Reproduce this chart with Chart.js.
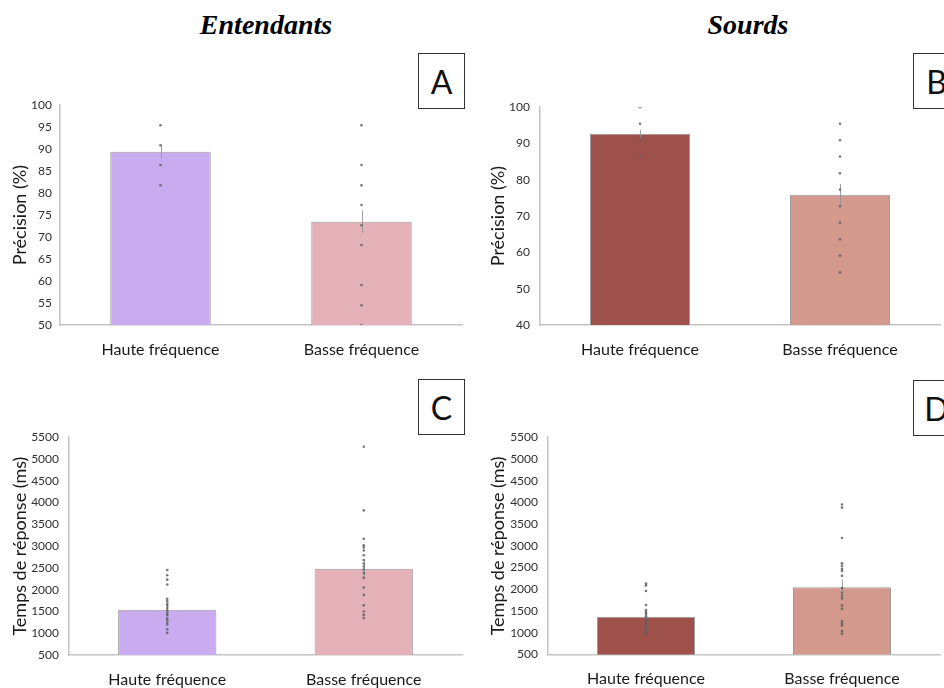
<!DOCTYPE html>
<html>
<head>
<meta charset="utf-8">
<script src="https://cdn.jsdelivr.net/npm/chart.js@4/dist/chart.umd.min.js"></script>
<style>
  html, body { margin: 0; padding: 0; background: #fff; }
  body { width: 944px; height: 688px; position: relative; overflow: hidden; font-family: Lato, "Open Sans", sans-serif; }
  .group { position: absolute; top: 9px; font-family: "Liberation Serif", "Times New Roman", serif; font-weight: bold; font-style: italic; font-size: 28px; color: #000; transform: translateX(-50%); white-space: nowrap; }
  .panel { position: absolute; }
  .tag { position: absolute; width: 47px; height: 56px; box-sizing: border-box; border: 1.5px solid #333; background: #fff; font-family: Lato, sans-serif; font-size: 32px; color: #111; display: flex; align-items: center; justify-content: center; z-index: 2; }
</style>
</head>
<body>
<div class="group" style="left:266px">Entendants</div>
<div class="group" style="left:748px">Sourds</div>

<div class="panel" id="pA" style="left:0;top:90px"><canvas id="cA" width="470" height="280"></canvas></div>
<div class="panel" id="pB" style="left:470px;top:90px"><canvas id="cB" width="474" height="280"></canvas></div>
<div class="panel" id="pC" style="left:0;top:420px"><canvas id="cC" width="470" height="268"></canvas></div>
<div class="panel" id="pD" style="left:470px;top:420px"><canvas id="cD" width="474" height="268"></canvas></div>

<div class="tag" style="left:418px;top:53px">A</div>
<div class="tag" style="left:913px;top:53px">B</div>
<div class="tag" style="left:418px;top:379px">C</div>
<div class="tag" style="left:913px;top:380px">D</div>

<script>
// Conditions on the x axis
const categories = ['Haute fréquence', 'Basse fréquence'];

// Précision (%) — Entendants
const accHearingMeans = [89.4, 73.5];
const accHearingErrors = [1.5, 2.6];
const accHearingHigh = [95.45, 90.9, 86.4, 81.8];
const accHearingLow = [95.45, 86.4, 81.8, 77.3, 72.7, 68.2, 59.1, 54.5, 50.0];

// Précision (%) — Sourds
const accDeafMeans = [92.7, 75.9];
const accDeafErrors = [1.1, 2.9];
const accDeafHigh = [100, 95.45, 90.9, 86.4];
const accDeafLow = [95.45, 90.9, 86.4, 81.8, 77.3, 72.7, 68.2, 63.6, 59.1, 54.5];

// Temps de réponse (ms) — Entendants
const rtHearingMeans = [1540, 2480];
const rtHearingErrors = [110, 200];
const rtHearingHigh = [2450, 2330, 2230, 2120, 1790, 1740, 1680, 1640, 1580, 1520, 1470, 1420, 1350, 1300, 1240, 1200, 1090, 1010];
const rtHearingLow = [5280, 3820, 3170, 3020, 2970, 2900, 2790, 2680, 2600, 2530, 2460, 2380, 2270, 2050, 1880, 1640, 1500, 1420, 1350];

// Temps de réponse (ms) — Sourds
const rtDeafMeans = [1370, 2050];
const rtDeafErrors = [80, 180];
const rtDeafHigh = [2130, 2090, 1960, 1640, 1520, 1470, 1430, 1380, 1330, 1280, 1220, 1170, 1100, 1050, 990];
const rtDeafLow = [3950, 3880, 3180, 2600, 2540, 2470, 2420, 2310, 2030, 1920, 1850, 1790, 1630, 1550, 1270, 1220, 1170, 1040, 980];

// Y-axis ranges and labels
const accHearingAxis = { min: 50, max: 100, step: 5, title: 'Précision (%)' };
const accDeafAxis = { min: 40, max: 100, step: 10, title: 'Précision (%)' };
const rtAxis = { min: 500, max: 5500, step: 500, title: 'Temps de réponse (ms)' };

// Bar colours
const hearingColors = ['#c9abf0', '#e4b1b9'];
const deafColors = ['#9e504a', '#d3998d'];

// Draws mean ± error as a thin vertical line over each bar
const errorBars = {
  id: 'errorBars',
  afterDatasetDraw(chart, args, opts) {
    if (chart.data.datasets[args.index].type !== 'bar') return;
    const { ctx, scales: { x, y } } = chart;
    ctx.save();
    ctx.strokeStyle = 'rgba(150,150,150,0.9)';
    ctx.lineWidth = 1;
    opts.means.forEach((m, i) => {
      const px = Math.round(x.getPixelForValue(i)) + 0.5;
      ctx.beginPath();
      ctx.moveTo(px, y.getPixelForValue(m - opts.errors[i]));
      ctx.lineTo(px, y.getPixelForValue(m + opts.errors[i]));
      ctx.stroke();
    });
    ctx.restore();
  }
};

function toPoints(values, label) {
  return values.map(v => ({ x: label, y: v }));
}

// box: canvas origin and absolute plot area edges
function makePanel(canvasId, box, axis, means, errors, high, low, colors) {
  const canvasW = box.w, canvasH = box.h;
  const yAxisWidth = box.areaLeft - box.left;
  const xAxisHeight = box.top + canvasH - box.areaBottom;
  const titleFont = 18;
  new Chart(document.getElementById(canvasId), {
    type: 'bar',
    data: {
      labels: categories,
      datasets: [
        {
          type: 'bar',
          data: means,
          backgroundColor: colors,
          borderColor: 'rgba(140,140,140,0.85)',
          borderWidth: 1,
          barPercentage: 0.5,
          categoryPercentage: 1,
          order: 2
        },
        {
          type: 'scatter',
          data: toPoints(high, categories[0]).concat(toPoints(low, categories[1])),
          pointRadius: 1.3,
          pointBackgroundColor: 'rgba(95,95,95,0.85)',
          pointBorderWidth: 0,
          showLine: false,
          order: 1
        }
      ]
    },
    options: {
      responsive: false,
      animation: false,
      devicePixelRatio: 1,
      layout: {
        padding: {
          top: box.areaTop - box.top,
          right: box.left + canvasW - box.areaRight,
          left: 0,
          bottom: 0
        }
      },
      plugins: {
        legend: { display: false },
        tooltip: { enabled: false },
        errorBars: { means: means, errors: errors }
      },
      scales: {
        x: {
          type: 'category',
          labels: categories,
          offset: true,
          grid: { display: false, drawTicks: false },
          border: { display: true, color: '#c4c4c4', width: 1.5 },
          ticks: { font: { family: 'Lato', size: 16 }, color: '#1a1a1a', padding: 15, maxRotation: 0 },
          afterFit(scale) { scale.height = xAxisHeight; }
        },
        y: {
          type: 'linear',
          min: axis.min,
          max: axis.max,
          grid: { display: false, drawTicks: false },
          border: { display: true, color: '#c4c4c4', width: 1.5 },
          ticks: {
            stepSize: axis.step,
            font: { family: 'Lato', size: 12 },
            color: '#303030',
            padding: box.tickGap,
            callback: v => String(v)
          },
          title: {
            display: true,
            text: axis.title,
            font: { family: 'Lato', size: titleFont },
            color: '#1a1a1a',
            padding: { top: box.titleX - box.left - titleFont * 0.6, bottom: 0 }
          },
          afterFit(scale) { scale.width = yAxisWidth; }
        }
      }
    },
    plugins: [errorBars]
  });
}

makePanel('cA', { left: 0, top: 90, w: 470, h: 280, areaLeft: 60, areaRight: 462, areaTop: 99.5, areaBottom: 325, titleX: 20, tickGap: 8 },
  accHearingAxis, accHearingMeans, accHearingErrors, accHearingHigh, accHearingLow, hearingColors);
makePanel('cB', { left: 470, top: 90, w: 474, h: 280, areaLeft: 540, areaRight: 940, areaTop: 99.5, areaBottom: 325, titleX: 498, tickGap: 10 },
  accDeafAxis, accDeafMeans, accDeafErrors, accDeafHigh, accDeafLow, deafColors);
makePanel('cC', { left: 0, top: 420, w: 470, h: 268, areaLeft: 69, areaRight: 462, areaTop: 429, areaBottom: 655, titleX: 20, tickGap: 10 },
  rtAxis, rtHearingMeans, rtHearingErrors, rtHearingHigh, rtHearingLow, hearingColors);
makePanel('cD', { left: 470, top: 420, w: 474, h: 268, areaLeft: 548, areaRight: 940, areaTop: 428.5, areaBottom: 654.5, titleX: 498, tickGap: 10 },
  rtAxis, rtDeafMeans, rtDeafErrors, rtDeafHigh, rtDeafLow, deafColors);
</script>
</body>
</html>
